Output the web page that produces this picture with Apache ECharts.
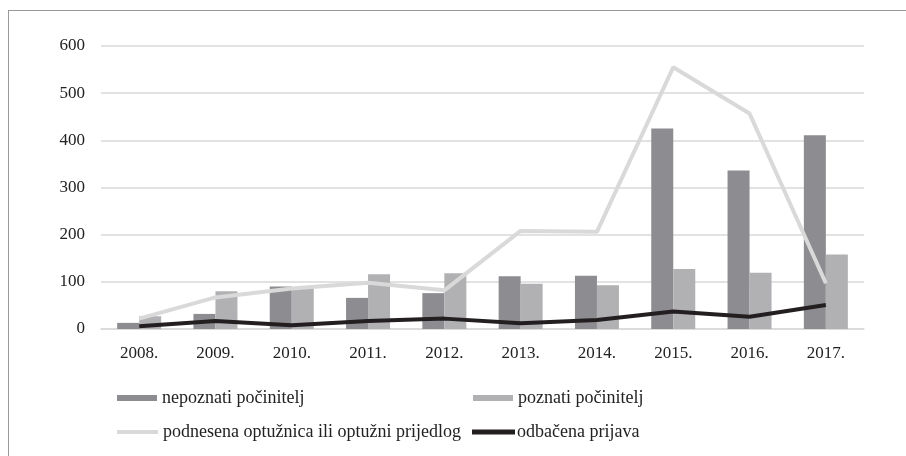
<!DOCTYPE html>
<html>
<head>
<meta charset="utf-8">
<script src="https://cdn.jsdelivr.net/npm/echarts@6/dist/echarts.min.js"></script>
<style>html,body{margin:0;padding:0;background:#fff}#c{width:906px;height:456px}</style>
</head>
<body>
<div id="c"></div>
<script>
const categories = ['2008.', '2009.', '2010.', '2011.', '2012.', '2013.', '2014.', '2015.', '2016.', '2017.'];
const nepoznati = [13, 32, 90, 66, 76, 112, 113, 425, 336, 411];
const poznati = [27, 80, 88, 116, 118, 96, 93, 127, 119, 158];
const podnesena = [22, 67, 86, 98, 82, 208, 206, 555, 457, 97];
const odbacena = [6, 17, 8, 17, 22, 12, 19, 37, 26, 51];
const yTicks = [0, 100, 200, 300, 400, 500, 600];

const names = ['nepoznati počinitelj', 'poznati počinitelj', 'podnesena optužnica ili optužni prijedlog', 'odbačena prijava'];
const colors = ['#8d8d91', '#b1b1b4', '#d9d9d9', '#231f20'];
const FF = 'Liberation Serif';
const axisTxt = { fontFamily: FF, fontSize: 17, color: '#222' };

const chart = echarts.init(document.getElementById('c'));
function leg(name, left, top, w, h, padLeft) {
  return {
    data: [name], left: left, top: top, itemWidth: w, itemHeight: h, itemGap: 0,
    icon: 'rect', selectedMode: false,
    textStyle: { fontFamily: FF, fontSize: 18, color: '#222', padding: [0, 0, 0, padLeft] }
  };
}
chart.setOption({
  animation: false,
  backgroundColor: '#fff',
  textStyle: { fontFamily: FF },
  grid: { left: 101, right: 42, top: 46, bottom: 127 },
  legend: [
    leg(names[0], 112, 384, 40, 6, 0),
    leg(names[1], 468, 384, 40, 6, 0),
    leg(names[2], 112, 418, 41, 4, 0),
    leg(names[3], 467, 418, 43, 5, -3)
  ],
  xAxis: {
    type: 'category', data: categories,
    axisLine: { lineStyle: { color: '#d9d9d9', width: 1.5 } },
    axisTick: { show: false },
    axisLabel: Object.assign({ margin: 16 }, axisTxt)
  },
  yAxis: {
    type: 'value', min: yTicks[0], max: yTicks[yTicks.length - 1], interval: 100,
    axisLine: { show: false }, axisTick: { show: false },
    splitLine: { lineStyle: { color: '#d9d9d9', width: 1.5 } },
    axisLabel: Object.assign({ margin: 16 }, axisTxt)
  },
  series: [
    { name: names[0], type: 'bar', data: nepoznati, barWidth: 22, barGap: '0%', itemStyle: { color: colors[0] } },
    { name: names[1], type: 'bar', data: poznati, barWidth: 22, barGap: '0%', itemStyle: { color: colors[1] } },
    { name: names[2], type: 'line', data: podnesena, symbol: 'none', lineStyle: { color: colors[2], width: 4 }, itemStyle: { color: colors[2] } },
    { name: names[3], type: 'line', data: odbacena, symbol: 'none', lineStyle: { color: colors[3], width: 4 }, itemStyle: { color: colors[3] } }
  ],
  graphic: [
    { type: 'line', shape: { x1: 8.5, y1: 10, x2: 8.5, y2: 456 }, style: { stroke: '#999', lineWidth: 1 } },
    { type: 'line', shape: { x1: 8, y1: 10.5, x2: 906, y2: 10.5 }, style: { stroke: '#999', lineWidth: 1 } }
  ]
});
</script>
</body>
</html>
